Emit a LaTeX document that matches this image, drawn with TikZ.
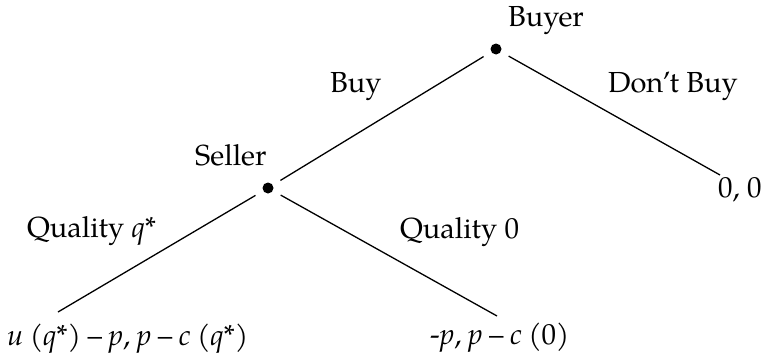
\documentclass[tikz,border=0pt]{standalone}
\usepackage{fontspec}
\setmainfont{TeX Gyre Pagella}
\newcommand{\tightspaces}{\spaceskip=6.5pt\relax}
\begin{document}
\begin{tikzpicture}[x=1pt,y=-1pt,
  lbl/.style={anchor=base west,inner sep=0pt,font=\fontsize{29}{35}\selectfont},
  pay/.style={lbl,font=\fontsize{29}{35}\selectfont\tightspaces},
  dot/.style={circle,fill=black,inner sep=0pt,minimum size=11pt,outer sep=9pt},
  branch/.style={line width=1.3pt}]
\useasboundingbox (0,0) rectangle (763,359);
% decision nodes
\node[dot] (b) at (496,49) {};
\node[dot] (s) at (268,188) {};
% terminal points
\coordinate (lq) at (58,312);
\coordinate (lz) at (497,316);
\coordinate (ln) at (720,175);
% branches
\draw[branch] (b) -- (s);
\draw[branch] (b) -- (ln);
\draw[branch] (s) -- (lq);
\draw[branch] (s) -- (lz);
% labels
\node[lbl] (tb) at (508,26) {Buyer};
\node[lbl] (ts) at (195,165) {Seller};
\node[lbl] (tbuy) at (330,92) {Buy};
\node[lbl] (tdb) at (608,92) {Don’t Buy};
\node[lbl] (tq) at (27,237) {Quality \textit{q}*};
\node[lbl] (t0) at (400,238) {Quality 0};
\node[pay] (pq) at (7,345) {\textit{u} (\textit{q}*) – \textit{p}, \textit{p} – \textit{c} (\textit{q}*)};
\node[pay] (pz) at (430,344) {-\textit{p}, \textit{p} – \textit{c} (0)};
\node[lbl] (pn) at (718,197) {0, 0};
\end{tikzpicture}
\end{document}
